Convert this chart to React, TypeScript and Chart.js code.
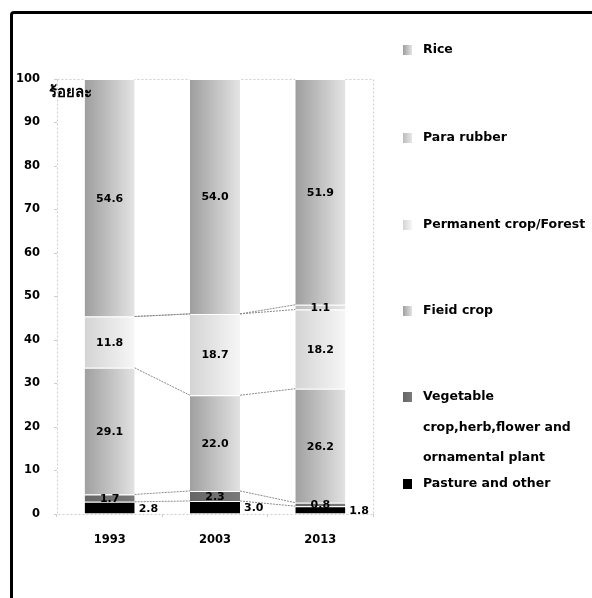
import React, { useEffect, useRef } from "react";
import { Chart, registerables } from "chart.js";

Chart.register(...registerables);

const years = ["1993", "2003", "2013"];
const pasture = [2.8, 3.0, 1.8];
const vegetable = [1.7, 2.3, 0.8];
const fieldCrop = [29.1, 22.0, 26.2];
const permanent = [11.8, 18.7, 18.2];
const paraRubber = [0, 0, 1.1];
const rice = [54.6, 54.0, 51.9];
const yTicks = [0, 10, 20, 30, 40, 50, 60, 70, 80, 90, 100];
const yTitle = "ร้อยละ";
const legendLines = [
  ["Rice"],
  ["Para rubber"],
  ["Permanent crop/Forest"],
  ["Fieid crop"],
  ["Vegetable", "crop,herb,flower and", "ornamental plant"],
  ["Pasture and other"],
];

const BAR_PCT = 0.475;
const FONT = "'DejaVu Sans', Verdana, Tahoma, sans-serif";

const series = [
  { label: "Pasture and other", data: pasture, c0: "#000000", c1: "#000000", outside: true, link: true },
  { label: "Vegetable crop,herb,flower and ornamental plant", data: vegetable, c0: "#656565", c1: "#7a7a7a", link: true },
  { label: "Fieid crop", data: fieldCrop, c0: "#a0a0a0", c1: "#e2e2e2", link: true },
  { label: "Permanent crop/Forest", data: permanent, c0: "#d4d4d4", c1: "#f6f6f6", link: true },
  { label: "Para rubber", data: paraRubber, c0: "#bcbcbc", c1: "#e6e6e6", link: true },
  { label: "Rice", data: rice, c0: "#9e9e9e", c1: "#e4e4e4", link: false },
];

function gradFill(c0: string, c1: string) {
  return (ctx: any) => {
    const chart = ctx.chart;
    const xs = chart.scales && chart.scales.x;
    if (!xs || ctx.dataIndex === undefined || !xs.width) return c0;
    const cx = xs.getPixelForValue(ctx.dataIndex);
    const hw = ((xs.width / years.length) * BAR_PCT) / 2;
    const g = chart.ctx.createLinearGradient(cx - hw, 0, cx + hw, 0);
    g.addColorStop(0, c0);
    g.addColorStop(1, c1);
    return g;
  };
}

const extrasPlugin = {
  id: "extras",
  beforeDatasetsDraw(chart: any) {
    const { ctx, chartArea: a } = chart;
    ctx.save();
    ctx.strokeStyle = "#cfcfcf";
    ctx.lineWidth = 1;
    ctx.setLineDash([2, 2]);
    ctx.strokeRect(Math.round(a.left) + 0.5, Math.round(a.top) + 0.5, Math.round(a.right - a.left), Math.round(a.bottom - a.top));
    ctx.restore();
  },
  afterDatasetsDraw(chart: any) {
    const { ctx, chartArea: a } = chart;
    ctx.save();
    // connecting dotted lines
    ctx.strokeStyle = "#8a8a8a";
    ctx.lineWidth = 1;
    ctx.setLineDash([2, 1]);
    chart.data.datasets.forEach((ds: any, di: number) => {
      if (!series[di].link) return;
      const meta = chart.getDatasetMeta(di);
      for (let i = 0; i < meta.data.length - 1; i++) {
        const e0 = meta.data[i];
        const e1 = meta.data[i + 1];
        ctx.beginPath();
        ctx.moveTo(e0.x + e0.width / 2, e0.y);
        ctx.lineTo(e1.x - e1.width / 2, e1.y);
        ctx.stroke();
      }
    });
    ctx.setLineDash([]);
    // value labels
    ctx.fillStyle = "#000";
    ctx.font = `bold 11px ${FONT}`;
    chart.data.datasets.forEach((ds: any, di: number) => {
      const meta = chart.getDatasetMeta(di);
      meta.data.forEach((el: any, i: number) => {
        const v = ds.data[i];
        if (!v) return;
        const yc = (el.y + el.base) / 2 + 1;
        const txt = v.toFixed(1);
        ctx.textBaseline = "middle";
        if (series[di].outside) {
          ctx.textAlign = "left";
          ctx.fillText(txt, el.x + el.width / 2 + 4, yc);
        } else {
          ctx.textAlign = "center";
          ctx.fillText(txt, el.x, yc);
        }
      });
    });
    // y title
    ctx.font = `bold 15px ${FONT}`;
    ctx.textAlign = "left";
    ctx.textBaseline = "middle";
    ctx.fillStyle = "#000";
    ctx.fillText(yTitle, a.left - 8, a.top + 14);
    // legend
    const order = [5, 4, 3, 2, 1, 0];
    const ys = [50, 138, 225, 311, 397, 484];
    const lx = 403;
    ctx.font = `bold 12.5px ${FONT}`;
    order.forEach((si, k) => {
      const s = series[si];
      const y = ys[k];
      const g = ctx.createLinearGradient(lx, 0, lx + 9, 0);
      g.addColorStop(0, s.c0);
      g.addColorStop(1, s.c1);
      ctx.fillStyle = g;
      ctx.fillRect(lx, y - 5, 9, 10);
      ctx.fillStyle = "#000";
      legendLines[k].forEach((line, j) => {
        ctx.fillText(line, lx + 20, y + j * 30.5);
      });
    });
    ctx.restore();
  },
};

export default function App() {
  const ref = useRef<HTMLCanvasElement | null>(null);
  useEffect(() => {
    if (!ref.current) return;
    const chart = new Chart(ref.current, {
      type: "bar",
      data: {
        labels: years,
        datasets: series.map((s) => ({
          label: s.label,
          data: s.data,
          backgroundColor: gradFill(s.c0, s.c1),
          borderColor: "#ffffff",
          borderWidth: { top: 1, left: 0, right: 0, bottom: 0 },
          borderSkipped: false,
          barPercentage: BAR_PCT,
          categoryPercentage: 1,
        })),
      },
      options: {
        animation: false,
        responsive: false,
        maintainAspectRatio: false,
        layout: { padding: { left: 0, top: 79, right: 219, bottom: 44 } },
        plugins: { legend: { display: false }, tooltip: { enabled: false } },
        scales: {
          x: {
            stacked: true,
            offset: true,
            grid: { display: true, drawOnChartArea: false, offset: true, tickLength: 3, color: "#cccccc" },
            border: { display: false },
            ticks: { color: "#000", font: { family: FONT, size: 11.5, weight: "bold" }, padding: 16 },
            afterFit: (s: any) => { s.height = 40; },
          },
          y: {
            stacked: true,
            min: 0,
            max: 100,
            afterBuildTicks: (s: any) => { s.ticks = yTicks.map((v) => ({ value: v })); },
            grid: { display: true, drawOnChartArea: false, tickLength: 3, color: "#cccccc" },
            border: { display: false },
            ticks: { color: "#000", font: { family: FONT, size: 11.5, weight: "bold" }, padding: 14 },
            afterFit: (s: any) => { s.width = 57; },
          },
        },
      },
      plugins: [extrasPlugin],
    });
    return () => chart.destroy();
  }, []);
  return (
    <div style={{ position: "fixed", left: 0, top: 0, width: 592, height: 598, background: "#fff", overflow: "hidden" }}>
      <div style={{ position: "absolute", left: 10, top: 11, width: 800, height: 800, border: "3px solid #000", borderRadius: 4 }} />
      <canvas ref={ref} width={592} height={598} style={{ position: "absolute", left: 0, top: 0, width: 592, height: 598 }} />
    </div>
  );
}
